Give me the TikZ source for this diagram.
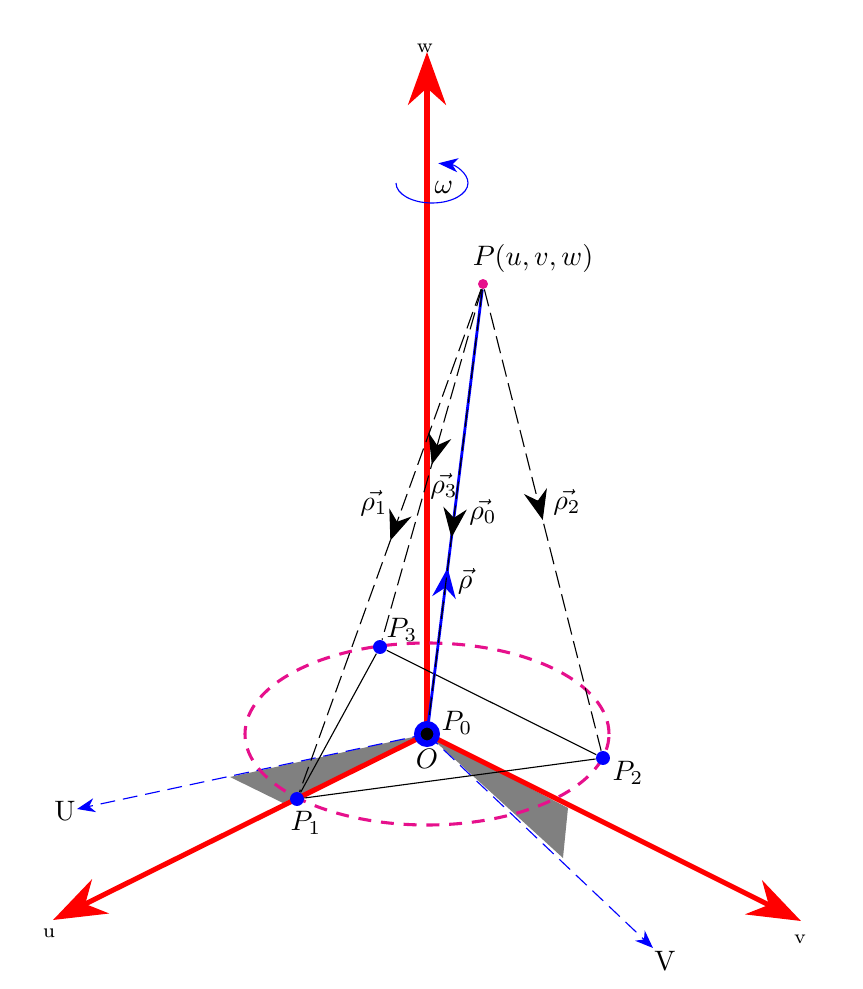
\documentclass[tikz,border=0pt]{standalone}
\usepackage{tikz}
\usetikzlibrary{arrows.meta,decorations.markings}
\pgfdeclarelayer{back}
\pgfsetlayers{back,main}
\definecolor{circleMagenta}{RGB}{230,16,140}

\begin{document}
\begin{tikzpicture}
[x=0.0125cm,y=0.0125cm,%
  blueDot/.style={shape=circle,fill=blue,inner sep=0pt,minimum size=14*0.354pt},%
  originDot/.style={shape=circle,fill=black,draw=blue,line width=6.5*0.354pt,inner sep=0pt,minimum size=19.5*0.354pt},%
  topDot/.style={shape=circle,fill=circleMagenta,inner sep=0pt,minimum size=10*0.354pt},%
  tipPoint/.style={shape=coordinate},%
  axisLine/.style={line width=1.8pt,red,-{Stealth[length=18.8pt,width=13.5pt,inset=6pt]}},%
  frameLine/.style={line width=0.4pt,blue,dash pattern=on 5.3pt off 2.8pt,-{Stealth[length=6.4pt,width=5pt,inset=2pt]}},%
  rayLine/.style={line width=0.4pt,black,dash pattern=on 6.2pt off 2.4pt},%
  rhoLine/.style={line width=1pt,blue},%
  edgeLine/.style={line width=0.4pt,black},%
  circleLine/.style={line width=1.1pt,circleMagenta,dash pattern=on 4.6pt off 3.5pt},%
  spinLine/.style={line width=0.4pt,blue,-{Stealth[length=7pt,width=5pt,inset=2pt]}},%
  wedgeFill/.style={fill=gray},%
  midTip/.style={postaction={decorate},decoration={markings,mark=at position #1 with
    {\arrow{Stealth[length=10.6pt,width=8.4pt,inset=3.5pt]}}}}]
\useasboundingbox (0,0) rectangle (863,989);
%% draw the points
\foreach \nodename/\x/\y in {pOne/297/190, pTwo/603/231, pThree/380/342}
{
  \node (\nodename) at (\x,\y) [blueDot] {};
}
\node (pZero) at (427,255) [originDot] {};
\node (pTop) at (483,705) [topDot] {};
%% axis ends
\foreach \nodename/\x/\y in {uTip/53/69, vTip/801/68, wTip/427/937, bigU/77/180, bigV/653/41}
{
  \node (\nodename) at (\x,\y) [tipPoint] {};
}
\begin{pgfonlayer}{back}
%% grey wedges
\fill[wedgeFill] (pZero.center) -- (230,212) -- (283,186) -- cycle;
\fill[wedgeFill] (pZero.center) -- (563,131) -- (568,181) -- cycle;
%% moving frame
\foreach \v in {bigU, bigV}
{
  \draw[frameLine] (pZero.center) -- (\v);
}
%% fixed axes
\foreach \v in {uTip, vTip, wTip}
{
  \draw[axisLine] (pZero.center) -- (\v);
}
%% base polygon and circle
\draw[circleLine] (pZero.center) ellipse [x radius=182,y radius=91];
\foreach \u/\v in {pOne/pTwo, pTwo/pThree, pThree/pOne}
{
  \draw[edgeLine] (\u) -- (\v);
}
%% rays from the top point
\draw[rhoLine,midTip=0.355] (pZero) -- (pTop);
\foreach \v/\p in {pOne/0.5, pTwo/0.5, pThree/0.5, pZero/0.575}
{
  \draw[rayLine,midTip=\p] (pTop) -- (\v);
}
\draw[spinLine] (396,806) arc [start angle=180,end angle=440,x radius=36,y radius=20];
\end{pgfonlayer}
%% labels
\foreach \nodename/\x/\y/\txt in {labOne/306/166/{$P_1$}, labTwo/628/216/{$P_2$}, labThree/402/359/{$P_3$},
  labZero/457/266/{$P_0$}, labO/427/230/{$O$}, labTop/533/731/{$P(u,v,w)$},
  rhoOne/374/486/{$\vec{\rho_1}$}, rhoThree/444/503/{$\vec{\rho_3}$}, rhoZero/483/477/{$\vec{\rho_0}$},
  rhoTwo/567/487/{$\vec{\rho_2}$}, rhoFree/465/408/{$\vec{\rho}$}, labOmega/444/802/{$\omega$},
  labBigU/65/178/{U}, labBigV/665/28/{V}}
{
  \node (\nodename) at (\x,\y) [inner sep=0pt] {\txt};
}
\foreach \nodename/\x/\y/\txt in {labU/49/56/u, labV/800/50/v, labW/425/941/w}
{
  \node (\nodename) at (\x,\y) [inner sep=0pt,font=\scriptsize] {\txt};
}
\end{tikzpicture}
\end{document}
